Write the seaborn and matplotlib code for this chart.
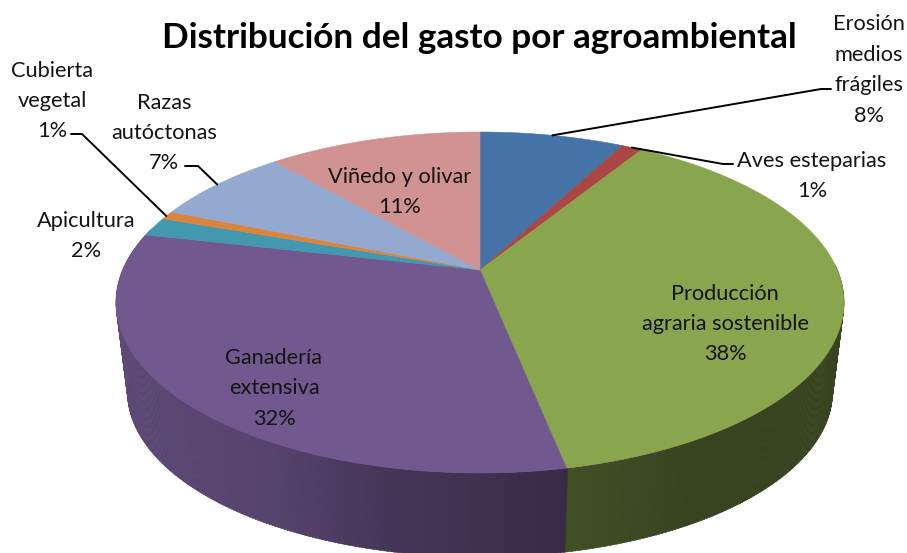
import numpy as np
import matplotlib
matplotlib.use("Agg")
import matplotlib.pyplot as plt
from matplotlib.collections import PolyCollection
from matplotlib.path import Path
from matplotlib.transforms import Affine2D, Transform
import seaborn as sns

# ---- data ----
categories = ["Erosión\nmedios\nfrágiles", "Aves esteparias",
              "Producción\nagraria sostenible", "Ganadería\nextensiva",
              "Apicultura", "Cubierta\nvegetal",
              "Razas\nautóctonas", "Viñedo y olivar"]
shares = [7.7, 1.1, 38.0, 31.7, 1.8, 0.8, 7.4, 11.4]
percent_labels = ["8%", "1%", "38%", "32%", "2%", "1%", "7%", "11%"]
slice_colors = ["#4572A7", "#AA4643", "#89A54E", "#71588F",
                "#4198AF", "#DB843D", "#93A9CF", "#D19392"]

# ---- layout (pixels of the reference picture) ----
TITLE = "Distribución del gasto por agroambiental"
label_centres = [(869, 70), (812, 176), (725, 324), (274, 388.5),
                 (86, 236), (52, 101), (164, 133), (400, 192)]
# leader elbows: label end, elbow
leaders = {0: [(831, 89), (821, 89)], 1: [(733, 164), (723, 164)],
           5: [(71, 134), (82, 134)], 6: [(185, 166), (198, 166)]}
TILT = 0.1906
TOP = dict(cx=480.0, cy=270.0, a=357.3, b=164.3)
BOTTOM = dict(cx=480.0, cy=360.6, a=346.0, b=159.0)
shade_angles = [90, 150, 168, 169, 193, 210, 265, 285]
shade_factor = [.41, .41, .48, .50, .62, .77, .84, .84]


def project(x, y, p):
    w = 1 + TILT * np.asarray(y)
    return p["cx"] + p["a"] * np.asarray(x) / w, p["cy"] - p["b"] * np.asarray(y) / w


class Perspective(Transform):
    input_dims = output_dims = 2
    is_separable = False
    has_inverse = False

    def __init__(self, params):
        super().__init__()
        self.params = params

    def transform_non_affine(self, values):
        values = np.asarray(values, float)
        return np.column_stack(project(values[:, 0], values[:, 1], self.params))

    def transform_path_non_affine(self, path):
        # flatten the arc finely before bending it into perspective
        poly = path.to_polygons(Affine2D().scale(4000), closed_only=True)[0] / 4000
        return Path(self.transform_non_affine(poly))


sns.set_theme(style="white")
plt.rcParams["font.family"] = ["Lato", "DejaVu Sans"]
palette = sns.color_palette(slice_colors)

fig = plt.figure(figsize=(9.07, 5.53), dpi=100, facecolor="white")
ax = fig.add_axes([0, 0, 1, 1])

wedges, _ = ax.pie(shares, colors=palette, startangle=90, counterclock=False,
                   radius=1, center=(0, 0))
ax.set_aspect("auto")
ax.set_xlim(0, 907)
ax.set_ylim(553, 0)
ax.set_axis_off()

# slice top faces, in perspective
persp = Perspective(TOP)
for w, col in zip(wedges, palette):
    w.set_edgecolor(col)
    w.set_linewidth(0.4)
    w.set_transform(persp + ax.transData)
    w.set_zorder(3)
    w.set_clip_on(False)

# side wall, shaded along the rim
edges = np.cumsum([0] + shares) * 3.6
steps = np.arange(88.0, 285.0, 0.5)
quads, face = [], []
for t0 in steps:
    t1 = t0 + 0.6
    r0, r1 = np.radians([t0, t1])
    xs, ys = np.sin([r0, r1]), np.cos([r0, r1])
    xa, ya = project(xs, ys, TOP)
    xb, yb = project(xs, ys, BOTTOM)
    quads.append([(xa[0], ya[0]), (xa[1], ya[1]), (xb[1], yb[1]), (xb[0], yb[0])])
    idx = min(np.searchsorted(edges, t0 + 0.3) - 1, len(shares) - 1)
    k = np.interp(t0, shade_angles, shade_factor)
    face.append(tuple(np.array(palette[idx]) * k))
ax.add_collection(PolyCollection(quads, facecolors=face, edgecolors=face,
                                 linewidths=0.4, zorder=2))

# leader lines, anchored at the middle of each slice's rim
mids = (edges[:-1] + edges[1:]) / 2
for i, elbow in leaders.items():
    r = np.radians(mids[i])
    ax_x, ax_y = project(np.sin(r), np.cos(r), TOP)
    pts = np.array(elbow + [(float(ax_x), float(ax_y))])
    ax.plot(pts[:, 0], pts[:, 1], color="black", lw=1.4, zorder=5,
            solid_joinstyle="round")

# labels
for name, pct, (x, y) in zip(categories, percent_labels, label_centres):
    ax.text(x, y, f"{name}\n{pct}", ha="center", va="center", fontsize=15.7,
            color="#141414", linespacing=1.65, zorder=6)

ax.text(479, 37.5, TITLE, ha="center", va="center", fontsize=25.3,
        fontweight="bold", color="black", zorder=6)

fig.savefig("out.png", dpi=100, facecolor="white")
